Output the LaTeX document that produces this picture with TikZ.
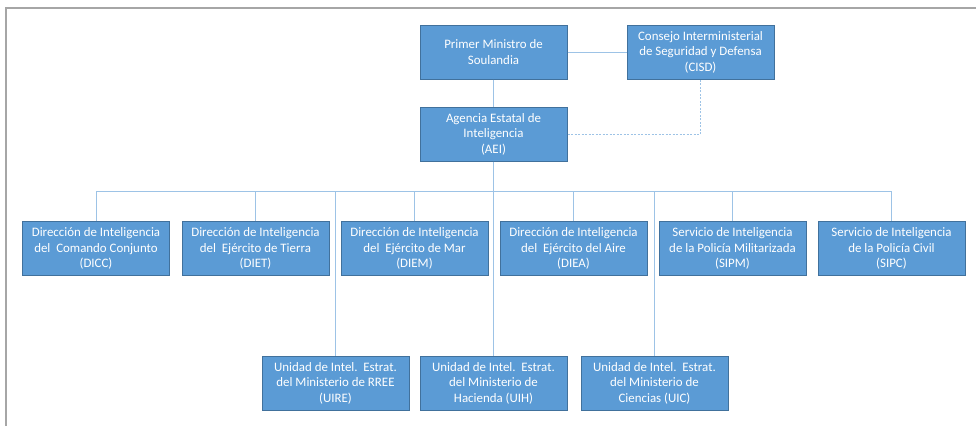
\documentclass[tikz,border=0pt]{standalone}
\usepackage{fontspec}
\setmainfont{Carlito}
\definecolor{boxfill}{HTML}{5B9BD5}
\definecolor{boxline}{HTML}{41719C}
\definecolor{conn}{HTML}{9DC3E6}
\definecolor{frame}{HTML}{A6A6A6}
\begin{document}
\begin{tikzpicture}[x=1pt,y=-1pt,
  orgbox/.style={draw=boxline,fill=boxfill,line width=1pt,text=white,
    minimum width=147pt,minimum height=54pt,inner sep=0pt,align=center,
    font=\fontsize{12.9}{15.5}\selectfont},
  link/.style={draw=conn,line width=1pt},
  dlink/.style={draw=conn,line width=0.9pt,dash pattern=on 2pt off 1.5pt}]
\useasboundingbox (0,0) rectangle (976,426);
\draw[frame,line width=2pt] (5.5,426) -- (5.5,8) -- (976,8);
% top
\node[orgbox] (PM) at (493.5,52) {Primer Ministro de\\Soulandia};
\node[orgbox] (CISD) at (700.5,52) {Consejo Interministerial\\de Seguridad y Defensa\\(CISD)};
\node[orgbox] (AEI) at (493.5,134) {Agencia Estatal de\\Inteligencia\\(AEI)};
% row 2
\node[orgbox] (DICC) at (96,248.5) {Dirección de Inteligencia\\del\ \ Comando Conjunto\\(DICC)};
\node[orgbox] (DIET) at (255.5,248.5) {Dirección de Inteligencia\\del\ \ Ejército de Tierra\\(DIET)};
\node[orgbox] (DIEM) at (414.5,248.5) {Dirección de Inteligencia\\del\ \ Ejército de Mar\\(DIEM)};
\node[orgbox] (DIEA) at (573.5,248.5) {Dirección de Inteligencia\\del\ \ Ejército del Aire\\(DIEA)};
\node[orgbox] (SIPM) at (732.5,248.5) {Servicio de Inteligencia\\de la Policía Militarizada\\(SIPM)};
\node[orgbox] (SIPC) at (891.5,248.5) {Servicio de Inteligencia\\de la Policía Civil\\(SIPC)};
% row 3
\node[orgbox] (UIRE) at (335.5,383) {Unidad de Intel.\ \ Estrat.\\del Ministerio de RREE\\(UIRE)};
\node[orgbox] (UIH) at (493.5,383) {Unidad de Intel.\ \ Estrat.\\del Ministerio de\\Hacienda (UIH)};
\node[orgbox] (UIC) at (654.5,383) {Unidad de Intel.\ \ Estrat.\\del Ministerio de\\Ciencias (UIC)};
\coordinate (bus) at (493.5,191);
% connectors
\path[link] (PM.south) -- (AEI.north);
\path[link] (PM.east) -- (CISD.west);
\path[dlink] (AEI.east) -| (CISD.south);
\path[link] (AEI.south) -- (bus);
\path[link] (DICC.north) -- (DICC.north |- bus) -- (SIPC.north |- bus) -- (SIPC.north);
\foreach \n in {DIET,DIEM,DIEA,SIPM,UIRE,UIH,UIC}
  \path[link] (\n.north) -- (\n.north |- bus);
\end{tikzpicture}
\end{document}
